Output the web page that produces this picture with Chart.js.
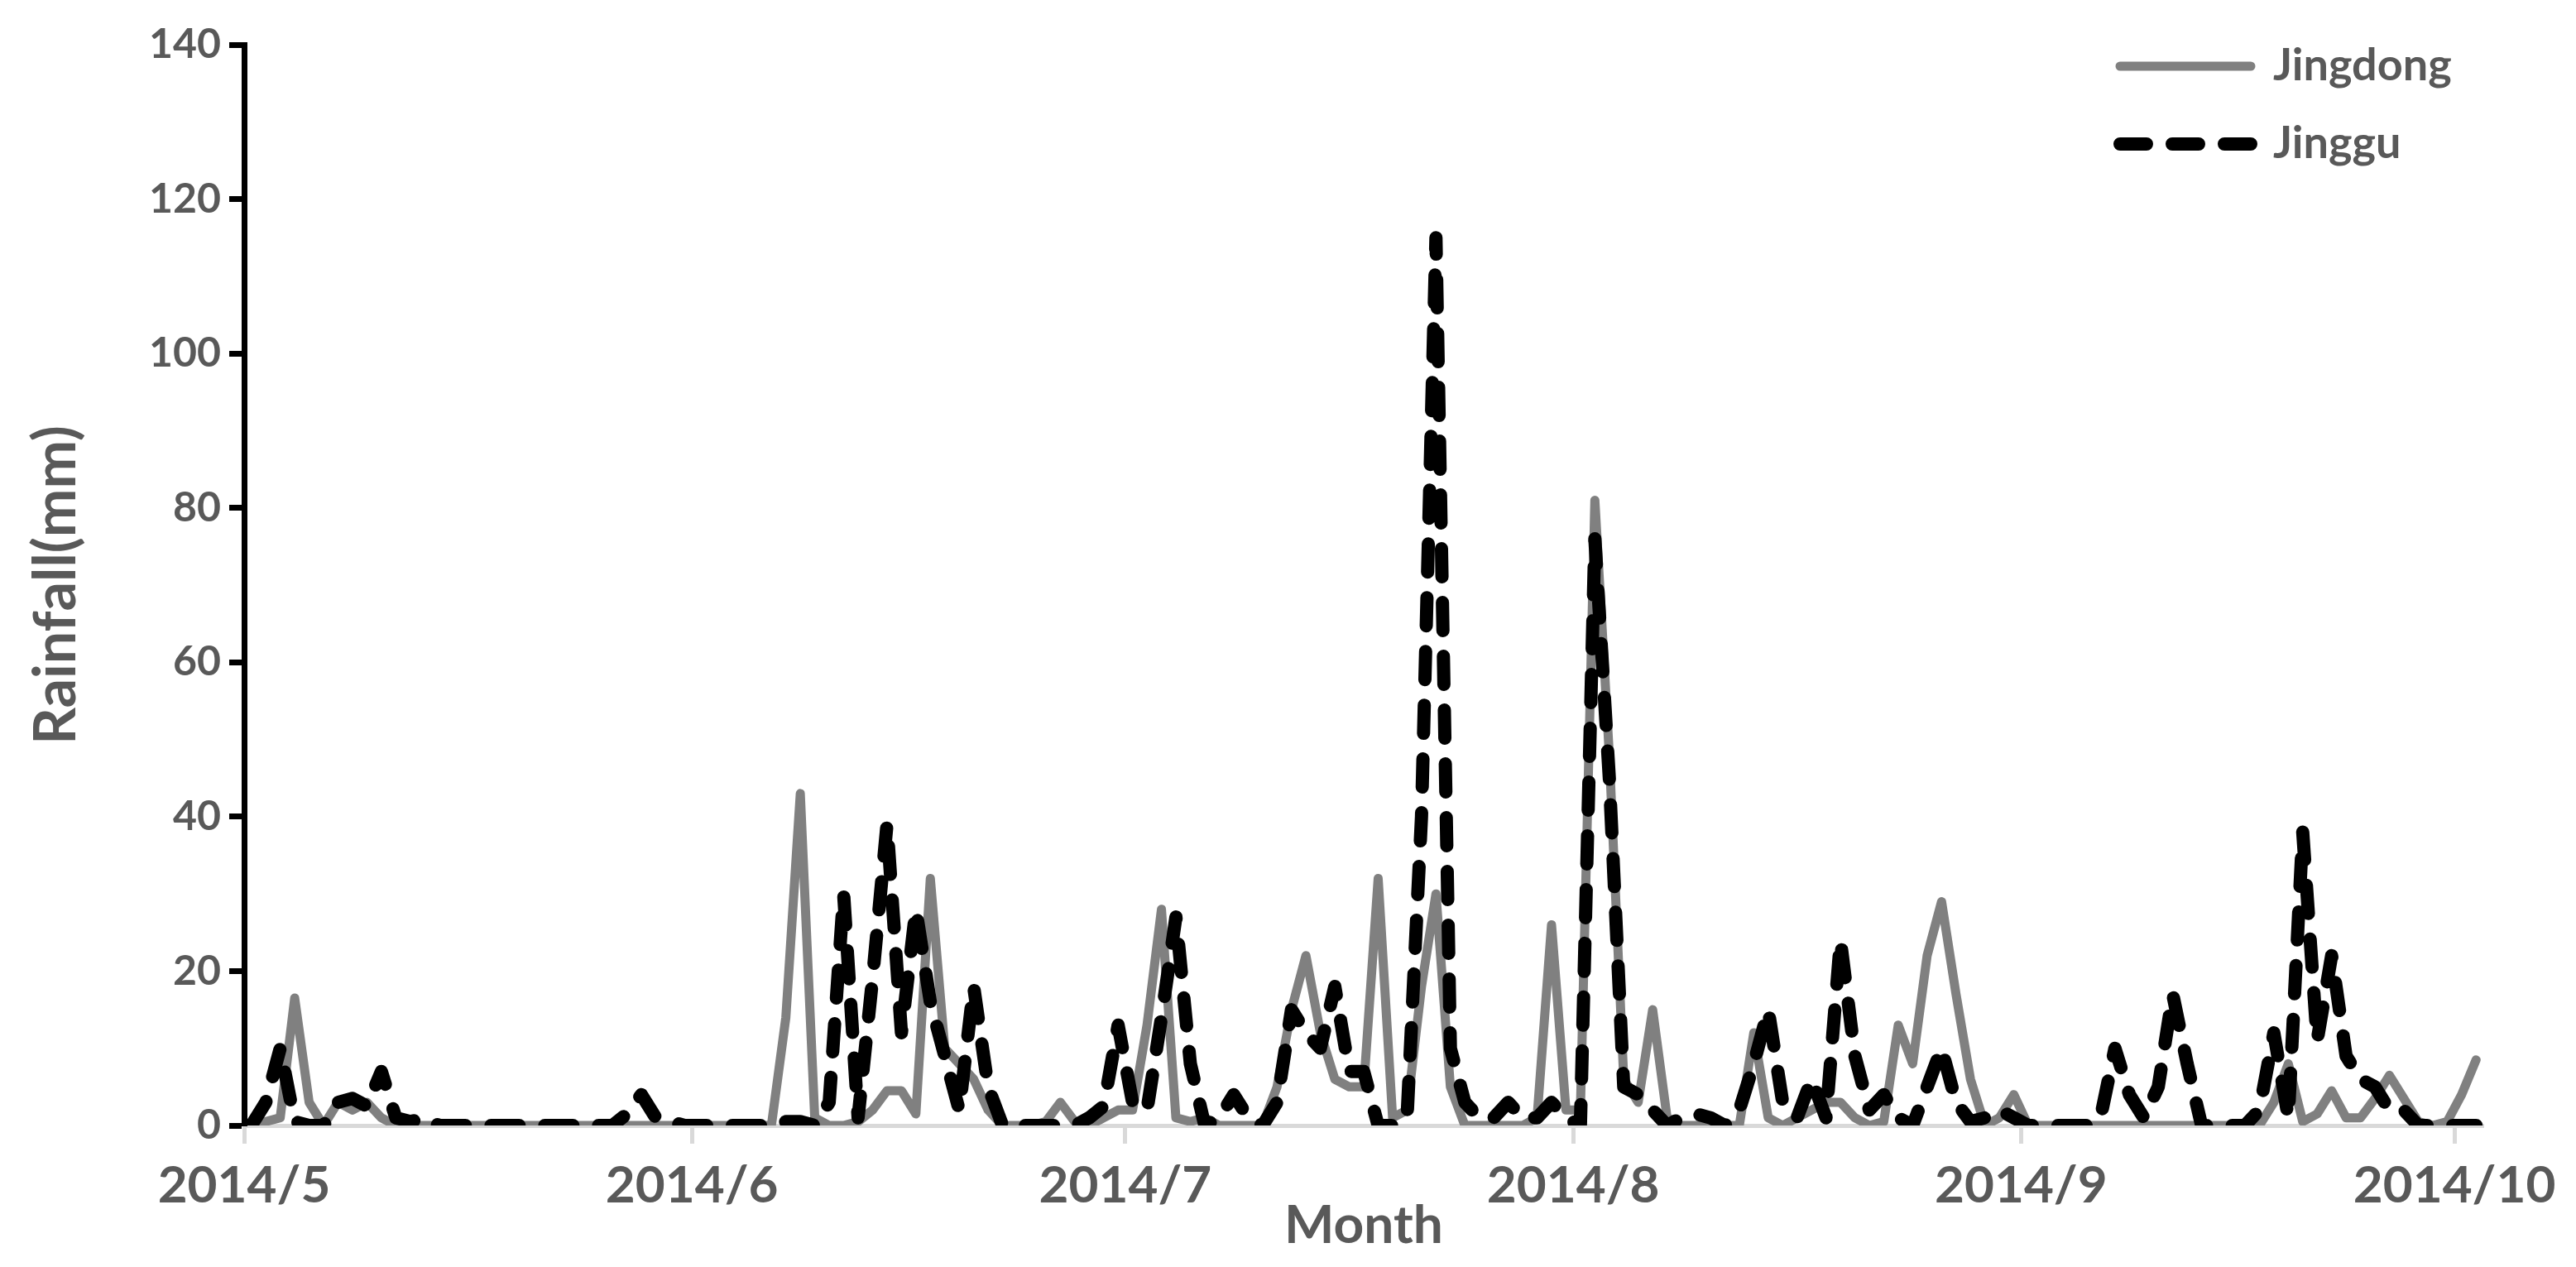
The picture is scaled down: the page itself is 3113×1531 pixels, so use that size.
<!DOCTYPE html>
<html>
<head>
<meta charset="utf-8">
<script src="https://cdn.jsdelivr.net/npm/chart.js@4.4.1/dist/chart.umd.min.js"></script>
<style>
html,body{margin:0;padding:0;background:#ffffff;}
#wrap{position:relative;width:3113px;height:1531px;}
</style>
</head>
<body>
<div id="wrap"><canvas id="c"></canvas></div>
<script>
// Daily rainfall (mm), 2014/5/1 .. 2014/10/2 (155 days)
const firstDay = '2014/5/1';
const monthTickDays = [0, 31, 61, 92, 123, 153];
const monthTickLabels = ['2014/5', '2014/6', '2014/7', '2014/8', '2014/9', '2014/10'];
const seriesNames = ['Jingdong', 'Jinggu'];

const jingdong = [
  0, 0.5, 1, 16.5, 3, 0, 3, 2, 3, 1, 0,
  0, 0, 0, 0, 0, 0, 0, 0, 0, 0, 0, 0, 0, 0, 0, 0, 0, 0, 0, 0, 0, 0, 0, 0, 0, 0,
  14, 43, 1, 0, 0, 0.5, 2, 4.5, 4.5, 1.5, 32, 10, 8, 6, 2, 0,
  0, 0, 0.5, 3, 0.5, 0, 1, 2, 2, 13, 28, 1, 0.5, 1, 0, 0, 0, 0,
  5, 15, 22, 12, 6, 5, 5, 32, 1, 2, 18, 30, 5, 0, 0, 0, 0, 0,
  1, 26, 2, 2, 81, 48, 6, 3, 15, 1, 0, 0, 0, 0, 0,
  12, 1, 0, 1, 2, 3, 3, 1, 0, 0.5, 13, 8, 22, 29, 17, 6, 0, 1, 4, 0,
  0, 0, 0, 0, 0, 0, 0, 0, 0, 0, 0, 0, 0, 0, 0, 0,
  3, 8, 0.5, 1.5, 4.5, 1, 1, 3.5, 6.5, 3.5, 0.5, 0, 0.5, 4, 8.5
];

const jinggu = [
  0, 3, 10, 0.5, 0, 0, 3, 3.5, 2.5, 7, 1, 0.5, 1,
  0, 0, 0, 0, 0, 0, 0, 0, 0, 0, 0, 0, 0,
  1.5, 4, 1, 0.5, 0,
  0, 0, 0, 0, 0, 0,
  0.5, 0.5, 0, 3, 30, 1, 19, 39, 12, 28, 16, 9, 2, 18, 5, 0,
  0, 0, 0, 0, 0, 1, 2.5, 13, 3, 2, 14, 27, 8, 0, 1, 4, 1, 0,
  3, 15, 12, 10, 18, 7, 7, 0, 0, 1, 40, 115, 10, 3, 1, 1, 3, 1,
  1, 3, 1, 0, 76, 45, 5, 4, 2, 0, 1, 1.5, 1, 0, 2,
  8, 15, 3, 1, 6, 1, 24, 9, 2, 4, 1, 0, 5, 10, 3, 0.5, 1, 2, 1, 0,
  0, 0, 0, 0, 1, 10, 4, 1, 5, 17, 8, 0, 0, 0, 0,
  2, 12, 1, 38, 11, 22, 9, 6, 5, 2, 2, 0, 0, 0, 0, 0
];

const yTicks = [0, 20, 40, 60, 80, 100, 120, 140];

// each day is plotted at the centre of its day slot
const toPoints = arr => arr.map((v, i) => ({ x: i + 0.5, y: v }));
const dayCount = jingdong.length;

Chart.defaults.font.family = 'Lato';
Chart.defaults.font.weight = 'bold';
Chart.defaults.color = '#595959';

const legendMover = {
  id: 'legendMover',
  afterLayout(chart) {
    const lg = chart.legend;
    if (!lg) return;
    const w = lg.width, h = lg.height;
    lg.left = 2522; lg.top = 13;
    lg.right = lg.left + w; lg.bottom = lg.top + h;
  }
};

new Chart(document.getElementById('c'), {
  type: 'line',
  data: {
    datasets: [
      {
        label: seriesNames[0],
        data: toPoints(jingdong),
        borderColor: '#808080',
        backgroundColor: '#808080',
        borderWidth: 11,
        borderJoinStyle: 'round',
        borderCapStyle: 'round',
        pointRadius: 0,
        tension: 0,
        order: 1
      },
      {
        label: seriesNames[1],
        data: toPoints(jinggu),
        borderColor: '#000000',
        backgroundColor: '#000000',
        borderWidth: 16,
        borderDash: [34, 31],
        borderJoinStyle: 'round',
        borderCapStyle: 'round',
        pointRadius: 0,
        tension: 0,
        order: 0
      }
    ]
  },
  options: {
    responsive: true,
    maintainAspectRatio: false,
    devicePixelRatio: 1,
    animation: false,
    events: [],
    layout: { padding: { top: 54, right: 112, bottom: 0, left: 0 } },
    plugins: {
      tooltip: { enabled: false },
      legend: {
        display: true,
        position: 'chartArea',
        align: 'start',
        labels: {
          usePointStyle: true,
          pointStyle: 'line',
          pointStyleWidth: 158,
          padding: 40,
          color: '#595959',
          font: { family: 'Lato', weight: 'bold', size: 54 },
          generateLabels: (chart) => chart.data.datasets.map((ds, i) => ({
            text: ds.label,
            fillStyle: 'rgba(0,0,0,0)',
            strokeStyle: ds.borderColor,
            lineWidth: ds.borderWidth,
            lineDash: i === 1 ? [32, 31] : [],
            lineCap: 'round',
            pointStyle: 'line',
            fontColor: '#595959',
            hidden: false,
            datasetIndex: i
          }))
        }
      }
    },
    scales: {
      x: {
        type: 'linear',
        min: 0,
        max: dayCount,
        afterBuildTicks: (scale) => { scale.ticks = monthTickDays.map(v => ({ value: v })); },
        afterFit: (scale) => { scale.height = 171; },
        grid: {
          drawOnChartArea: false,
          drawTicks: true,
          tickLength: 22,
          tickWidth: 5,
          tickColor: '#d9d9d9'
        },
        border: { display: true, color: '#d9d9d9', width: 5 },
        ticks: {
          autoSkip: false,
          maxRotation: 0,
          padding: 14,
          color: '#595959',
          font: { family: 'Lato', weight: 'bold', size: 62 },
          callback: (v) => {
            const k = monthTickDays.indexOf(v);
            return k >= 0 ? monthTickLabels[k] : '';
          }
        },
        title: {
          display: true,
          text: 'Month',
          color: '#595959',
          font: { family: 'Lato', weight: 'bold', size: 64 },
          padding: { top: 0, bottom: 11 }
        }
      },
      y: {
        min: 0,
        max: 140,
        afterBuildTicks: (scale) => { scale.ticks = yTicks.map(v => ({ value: v })); },
        afterFit: (scale) => { scale.width = 295; scale.paddingTop = 0; scale.paddingBottom = 0; },
        grid: {
          drawOnChartArea: false,
          drawTicks: true,
          tickLength: 18,
          tickWidth: 7,
          tickColor: '#000000'
        },
        border: { display: true, color: '#000000', width: 7 },
        ticks: {
          padding: 10,
          color: '#595959',
          font: { family: 'Lato', weight: 'bold', size: 50 }
        },
        title: {
          display: true,
          text: 'Rainfall(mm)',
          color: '#595959',
          font: { family: 'Lato', weight: 'bold', size: 70 },
          padding: { top: 26, bottom: 0 }
        }
      }
    }
  },
  plugins: [legendMover]
});
</script>
</body>
</html>
